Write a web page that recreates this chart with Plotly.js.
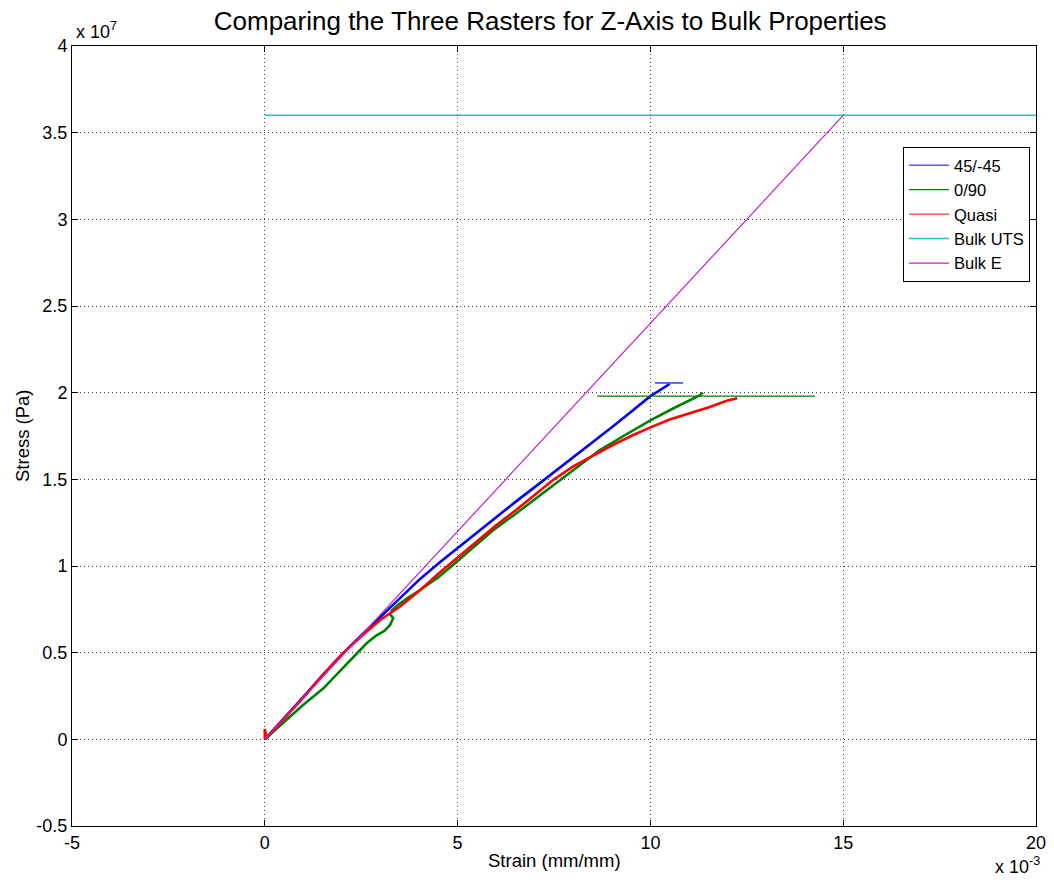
<!DOCTYPE html>
<html>
<head>
<meta charset="utf-8">
<script src="https://cdn.plot.ly/plotly-3.0.1.min.js"></script>
<style>html,body{margin:0;padding:0;background:#fff;}#chart{width:1054px;height:882px;}</style>
</head>
<body>
<div id="chart"></div>
<script>
// Strain in units of 1e-3 (mm/mm), stress in units of 1e7 (Pa)
const strain4545 = [0,0.5,1,1.5,2,2.5,3,3.5,4,4.5,5,5.5,6,6.5,7,7.5,8,8.5,9,9.5,10,10.5];
const stress4545 = [0,0.12,0.245,0.37,0.49,0.6,0.705,0.815,0.92,1.015,1.105,1.195,1.285,1.37,1.455,1.54,1.625,1.715,1.8,1.89,1.98,2.05];
const capX4545 = [10.12,10.85];
const capY4545 = [2.056,2.056];

const strain090 = [0,0.3,0.65,1,1.52,2,2.43,2.64,2.9,3.1,3.25,3.33,3.25,3.3,3.45,3.7,4.02,4.5,4.85,5.5,5.92,6.5,7,7.7,8.2,8.69,9.3,10,10.6,11.29,11.36];
const stress090 = [0,0.06,0.13,0.2,0.294,0.405,0.5,0.554,0.6,0.625,0.66,0.7,0.72,0.745,0.775,0.815,0.86,0.935,1,1.125,1.206,1.3,1.385,1.5,1.585,1.669,1.75,1.84,1.91,1.985,2];
const capX090 = [8.62,14.27];
const capY090 = [1.98,1.98];

const strainQuasi = [0,0,0.05,0.5,1,1.5,2,2.5,3,3.5,4,4.5,5,5.5,6,6.5,7,7.5,8,8.5,9,9.5,10,10.5,11,11.5,12,12.25];
const stressQuasi = [0,0.06,0.01,0.12,0.24,0.37,0.49,0.595,0.69,0.765,0.855,0.955,1.05,1.145,1.235,1.32,1.41,1.5,1.575,1.635,1.695,1.75,1.8,1.845,1.88,1.915,1.955,1.968];

const strainUTS = [0,20];
const stressUTS = [3.6,3.6];
const strainE = [0,15];
const stressE = [0,3.6];

const xTicks = [-5,0,5,10,15,20];
const xTickText = ['-5','0','5','10','15','20'];
const yTicks = [-0.5,0,0.5,1,1.5,2,2.5,3,3.5,4];
const yTickText = ['-0.5','0','0.5','1','1.5','2','2.5','3','3.5','4'];

const FONT = 'Liberation Sans, Arial, sans-serif';

const traces = [
  {x: strain4545, y: stress4545, name: '45/-45', legendgroup: 'a', showlegend: false, mode: 'lines', line: {color: '#0000ff', width: 2.6}},
  {x: strain090, y: stress090, name: '0/90', legendgroup: 'b', showlegend: false, mode: 'lines', line: {color: '#008000', width: 2.6}},
  {x: strainQuasi, y: stressQuasi, name: 'Quasi', legendgroup: 'c', showlegend: false, mode: 'lines', line: {color: '#ff0000', width: 2.6}},
  {x: strainUTS, y: stressUTS, name: 'Bulk UTS', legendrank: 4, mode: 'lines', line: {color: '#28c4c0', width: 1.5}},
  {x: strainE, y: stressE, name: 'Bulk E', legendrank: 5, mode: 'lines', line: {color: '#c020c8', width: 1.2}},
  {x: capX4545, y: capY4545, mode: 'lines', showlegend: false, line: {color: '#0000ff', width: 1.2}},
  {x: capX090, y: capY090, mode: 'lines', showlegend: false, line: {color: '#008000', width: 1.2}},
  // legend entries (thin lines, as in the reference legend)
  {x: [null], y: [null], name: '45/-45', legendgroup: 'a', legendrank: 1, mode: 'lines', line: {color: '#5a5aff', width: 1.5}},
  {x: [null], y: [null], name: '0/90', legendgroup: 'b', legendrank: 2, mode: 'lines', line: {color: '#008000', width: 1.2}},
  {x: [null], y: [null], name: 'Quasi', legendgroup: 'c', legendrank: 3, mode: 'lines', line: {color: '#ff5a5a', width: 1.5}}
];

const axisCommon = {
  showline: true, linecolor: '#000', linewidth: 1, mirror: 'allticks',
  ticks: 'inside', ticklen: 6, tickcolor: '#000', tickwidth: 1,
  showgrid: true, gridcolor: '#444', gridwidth: 1, griddash: '1px,3px',
  zeroline: false, tickfont: {family: FONT, size: 18, color: '#000'}
};

const layout = {
  width: 1054, height: 882,
  paper_bgcolor: '#fff', plot_bgcolor: '#fff',
  margin: {l: 72, r: 18, t: 46, b: 56},
  showlegend: true,
  title: {text: 'Comparing the Three Rasters for Z-Axis to Bulk Properties',
          font: {family: FONT, size: 26, color: '#000'},
          x: 0.522, xanchor: 'center', y: 1 - 21/882, yanchor: 'middle', yref: 'container'},
  xaxis: Object.assign({}, axisCommon, {range: [-5, 20], tickvals: xTicks, ticktext: xTickText}),
  yaxis: Object.assign({}, axisCommon, {range: [-0.5, 4], tickvals: yTicks, ticktext: yTickText}),
  legend: {x: 0.862, y: 0.8705, xanchor: 'left', yanchor: 'top', traceorder: 'normal', itemwidth: 40,
           bgcolor: '#fff', bordercolor: '#000', borderwidth: 1,
           font: {family: FONT, size: 16.5, color: '#000'}},
  annotations: [
    {text: 'Strain (mm/mm)', xref: 'paper', yref: 'paper', x: 0.5, y: 0, yshift: -34,
     xanchor: 'center', yanchor: 'middle', showarrow: false, font: {family: FONT, size: 18.5, color: '#000'}},
    {text: 'Stress (Pa)', xref: 'paper', yref: 'paper', x: 0, y: 0.5, xshift: -50, textangle: -90,
     xanchor: 'center', yanchor: 'middle', showarrow: false, font: {family: FONT, size: 18.5, color: '#000'}},
    {text: 'x 10<sup>7</sup>', xref: 'paper', yref: 'paper', x: 0, y: 1, xshift: 2, yshift: 2,
     xanchor: 'left', yanchor: 'bottom', showarrow: false, font: {family: FONT, size: 18, color: '#000'}},
    {text: 'x 10<sup>-3</sup>', xref: 'paper', yref: 'paper', x: 1, y: 0, xshift: 6, yshift: -26,
     xanchor: 'right', yanchor: 'top', showarrow: false, font: {family: FONT, size: 18, color: '#000'}}
  ]
};

Plotly.newPlot('chart', traces, layout, {displayModeBar: false, staticPlot: true});
</script>
</body>
</html>
